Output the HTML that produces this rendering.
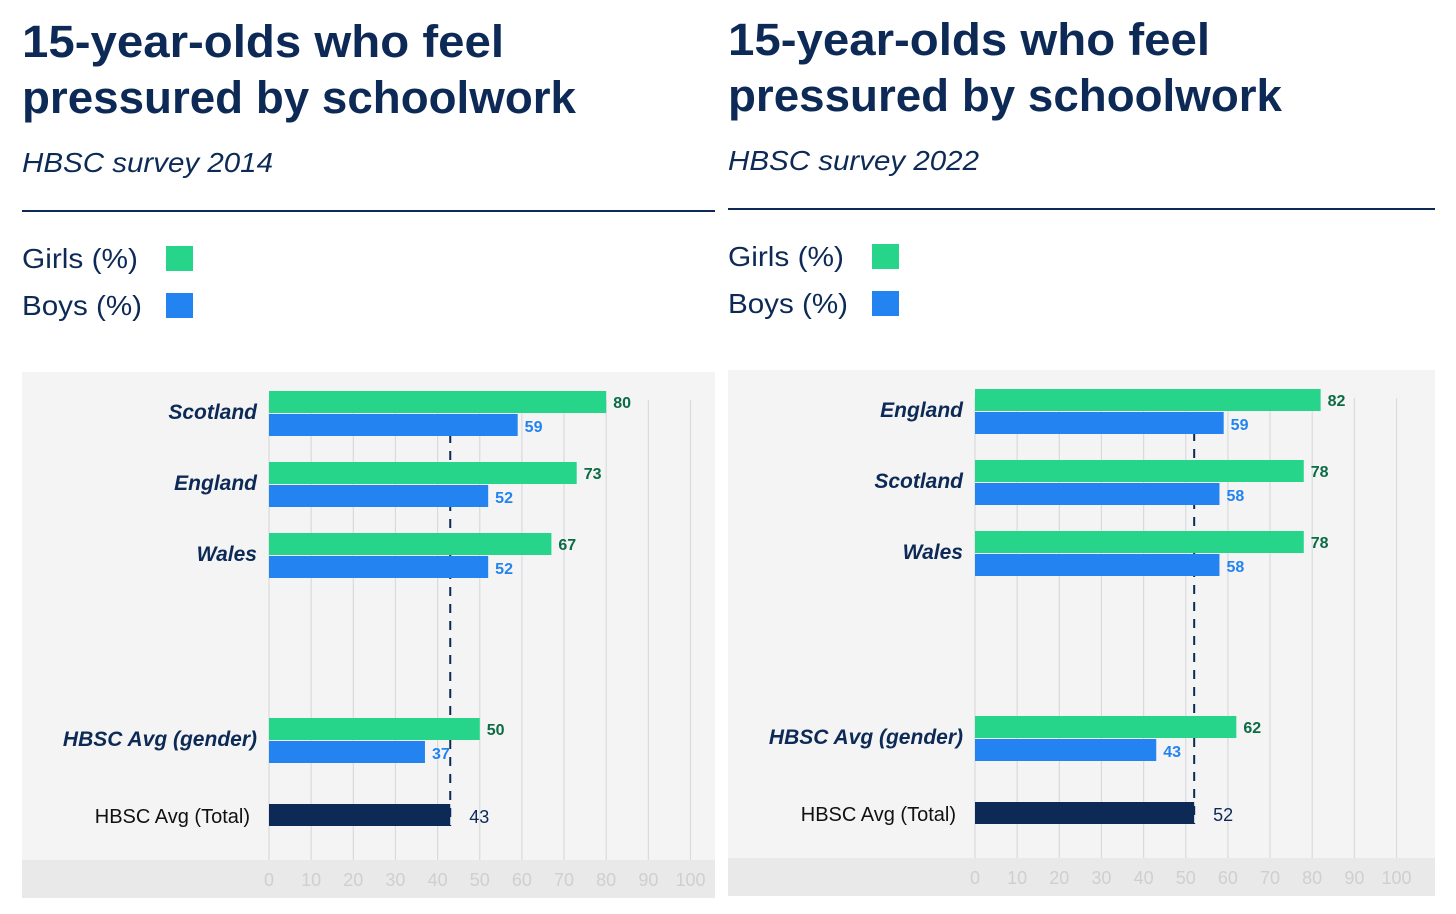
<!DOCTYPE html>
<html><head><meta charset="utf-8">
<style>
html,body{margin:0;padding:0;background:#fff;}
svg{display:block;}
text{font-family:"Liberation Sans",sans-serif;}
</style></head>
<body>
<svg id="root" width="1456" height="914" viewBox="0 0 1456 914"></svg>
<script>
const categories2014 = ["Scotland","England","Wales","HBSC Avg (gender)"];
const girls2014 = [80,73,67,50];
const boys2014 = [59,52,52,37];
const total2014 = 43;
const categories2022 = ["England","Scotland","Wales","HBSC Avg (gender)"];
const girls2022 = [82,78,78,62];
const boys2022 = [59,58,58,43];
const total2022 = 52;
const tickLabels = [0,10,20,30,40,50,60,70,80,90,100];

const NS = "http://www.w3.org/2000/svg";
const root = document.getElementById('root');
function mk(tag, attrs, parent, txt){
  const e = document.createElementNS(NS, tag);
  for (const k in attrs) e.setAttribute(k, attrs[k]);
  if (txt !== undefined) e.textContent = txt;
  parent.appendChild(e);
  return e;
}
const NAVY = "#0d2a57", GREEN = "#26d48a", BLUE = "#2383f0";

function drawPanel(ox, oy, year, cats, girls, boys, total, pw){
  const g = mk('g', {}, root);
  
  
  let t = mk('text', {x: ox, y: oy+57, 'font-size': 45, 'font-weight': 'bold', fill: NAVY, textLength: 482, lengthAdjust: 'spacingAndGlyphs'}, g, "15-year-olds who feel");
  
  
  t = mk('text', {x: ox, y: oy+113, 'font-size': 45, 'font-weight': 'bold', fill: NAVY, textLength: 554, lengthAdjust: 'spacingAndGlyphs'}, g, "pressured by schoolwork");
  
  
  t = mk('text', {x: ox, y: oy+172, 'font-size': 28, 'font-style': 'italic', fill: NAVY, textLength: 251, lengthAdjust: 'spacingAndGlyphs'}, g, "HBSC survey " + year);
  
  
  const r = mk('rect', {x: ox, y: oy+210, width: pw, height: 2, fill: NAVY}, g);
  
  
  const legs = [["Girls (%)", GREEN, 268, 246, 116], ["Boys (%)", BLUE, 315, 293, 120]];
  legs.forEach((L, i) => {
    const lt = mk('text', {x: ox, y: oy+L[2], 'font-size': 28, fill: NAVY, textLength: L[4], lengthAdjust: 'spacingAndGlyphs'}, g, L[0]);
    
    
    const ls = mk('rect', {x: ox+144, y: oy+L[3], width: 27, height: 25, fill: L[1]}, g);
    
    
  });
  const bg = mk('rect', {x: ox, y: oy+372, width: pw, height: 526, fill: '#f4f4f4'}, g);
  
  
  const band = mk('rect', {x: ox, y: oy+860, width: pw, height: 38, fill: '#e9e9e9'}, g);
  
  
  const x0 = ox + 247, unit = 4.215;
  const X = v => x0 + v*unit;
  tickLabels.forEach(v => {
    const gl = mk('line', {x1: X(v), x2: X(v), y1: oy+400, y2: oy+860, stroke: '#d9dadd', 'stroke-width': 1.2}, g);
    
    
    const tl = mk('text', {x: X(v), y: oy+886, 'font-size': 18, fill: '#cfcfcf', 'text-anchor': 'middle'}, g, String(v));
    
    
  });
  const dl = mk('line', {x1: X(total), x2: X(total), y1: oy+400, y2: oy+826, stroke: NAVY, 'stroke-width': 2, 'stroke-dasharray': '9,8'}, g);
  
  
  const rowTops = [391, 462, 533, 718];
  cats.forEach((c, i) => {
    const y = oy + rowTops[i];
    const cl = mk('text', {x: x0-12, y: y+28, 'font-size': 21, 'font-weight': 'bold', 'font-style': 'italic', fill: NAVY, 'text-anchor': 'end'}, g, c);
    
    
    const gb = mk('rect', {x: x0, y: y, width: X(girls[i])-x0, height: 22, fill: GREEN}, g);
    
    
    const bb = mk('rect', {x: x0, y: y+23, width: X(boys[i])-x0, height: 22, fill: BLUE}, g);
    
    
    const gv = mk('text', {x: X(girls[i])+7, y: y+17, 'font-size': 16, 'font-weight': 'bold', fill: '#0b6b45'}, g, String(girls[i]));
    
    
    const bv = mk('text', {x: X(boys[i])+7, y: y+41, 'font-size': 16, 'font-weight': 'bold', fill: BLUE}, g, String(boys[i]));
    
    
  });
  const ty = oy + 804;
  const tlab = mk('text', {x: x0-19, y: ty+19, 'font-size': 20, fill: '#111', 'text-anchor': 'end'}, g, "HBSC Avg (Total)");
  
  
  const tb = mk('rect', {x: x0, y: ty, width: X(total)-x0, height: 22, fill: NAVY}, g);
  
  
  const tv = mk('text', {x: X(total)+19, y: ty+19, 'font-size': 18, fill: NAVY}, g, String(total));
  
  
}
drawPanel(22, 0, "2014", categories2014, girls2014, boys2014, total2014, 693);
drawPanel(728, -2, "2022", categories2022, girls2022, boys2022, total2022, 707);
</script>
</body></html>
